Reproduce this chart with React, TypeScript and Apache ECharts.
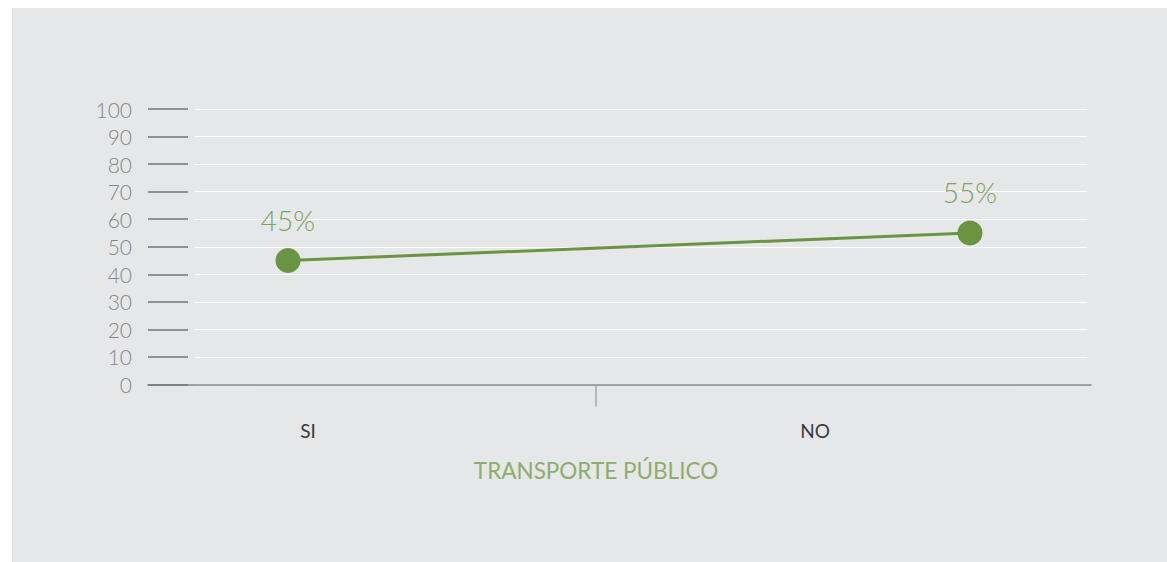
import React, { useEffect, useRef } from "react";
import * as echarts from "echarts";

const categories = ["SI", "NO"];
const values = [45, 55];
const yMin = 0;
const yMax = 100;
const yInterval = 10;
const axisTitle = "TRANSPORTE PÚBLICO";

const FONT = "Lato, 'Open Sans', sans-serif";

export default function App() {
  const ref = useRef<HTMLDivElement>(null);
  useEffect(() => {
    if (!ref.current) return;
    const chart = echarts.init(ref.current, undefined, { renderer: "svg" });
    const top = 109;
    const bottom = 562 - 384.5;
    const hiddenY = (gridIndex: number, splitLine = false) => ({
      type: "value",
      gridIndex,
      min: yMin,
      max: yMax,
      interval: yInterval,
      axisLine: { show: false },
      axisTick: { show: false },
      axisLabel: { show: false },
      splitLine: splitLine
        ? { show: true, lineStyle: { color: "#ffffff", width: 1.2 } }
        : { show: false },
    });
    chart.setOption({
      animation: false,
      backgroundColor: "transparent",
      grid: [
        { left: 148, right: 1167 - 1091, top, bottom }, // 0: y labels + ticks + axis line
        { left: 195, right: 1167 - 1087, top, bottom }, // 1: split lines
        { left: 288, right: 1167 - 970, top, bottom }, // 2: line series
        { left: 54.5, right: 1167 - 1068.5, top, bottom }, // 3: category labels
        { left: 148, right: 1167 - 1044, top, bottom }, // 4: middle tick + title
      ],
      xAxis: [
        {
          type: "category",
          gridIndex: 0,
          data: categories,
          axisLine: { show: true, lineStyle: { color: "#86878a", width: 1.5 } },
          axisTick: { show: false },
          axisLabel: { show: false },
          splitLine: { show: false },
        },
        {
          type: "category",
          gridIndex: 1,
          data: categories,
          show: false,
        },
        {
          type: "category",
          gridIndex: 2,
          data: categories,
          boundaryGap: false,
          show: false,
        },
        {
          type: "category",
          gridIndex: 3,
          data: categories,
          axisLine: { show: false },
          axisTick: { show: false },
          axisLabel: {
            show: true,
            margin: 36,
            color: "#3a3a3c",
            fontSize: 19,
            fontFamily: FONT,
            fontWeight: 400,
          },
        },
        {
          type: "category",
          gridIndex: 4,
          data: [axisTitle],
          axisLine: { show: false },
          axisTick: {
            show: true,
            alignWithLabel: true,
            length: 22,
            lineStyle: { color: "#a7a8ab", width: 1.5 },
          },
          axisLabel: { show: false },
          name: axisTitle,
          nameLocation: "middle",
          nameGap: 74,
          nameTextStyle: {
            color: "#8cae6c",
            fontSize: 22.5,
            fontFamily: FONT,
            fontWeight: 400,
          },
        },
      ],
      yAxis: [
        {
          type: "value",
          gridIndex: 0,
          min: yMin,
          max: yMax,
          interval: yInterval,
          axisLine: { show: false },
          axisTick: {
            show: true,
            inside: true,
            length: 40,
            lineStyle: { color: "#737478", width: 1.5 },
          },
          axisLabel: {
            show: true,
            margin: 16,
            color: "#86878a",
            fontSize: 21,
            fontFamily: FONT,
            fontWeight: 300,
          },
          splitLine: { show: false },
        },
        hiddenY(1, true),
        hiddenY(2),
        hiddenY(3),
        hiddenY(4),
      ],
      series: [
        {
          type: "line",
          xAxisIndex: 2,
          yAxisIndex: 2,
          data: values,
          symbol: "circle",
          symbolSize: 25,
          lineStyle: { color: "#6b9442", width: 3 },
          itemStyle: { color: "#6b9442" },
          label: {
            show: true,
            position: "top",
            distance: 14,
            formatter: "{c}%",
            color: "#7ea25a",
            fontSize: 28,
            fontFamily: FONT,
            fontWeight: 300,
          },
          z: 5,
        },
      ],
    });
    return () => chart.dispose();
  }, []);
  return (
    <div
      style={{
        position: "fixed",
        left: 0,
        top: 0,
        width: 1167,
        height: 562,
        background: "#ffffff",
      }}
    >
      <div
        style={{
          position: "absolute",
          left: 12,
          top: 8,
          width: 1155,
          height: 554,
          background: "#e6e7e8",
        }}
      />
      <div
        ref={ref}
        style={{ position: "absolute", left: 0, top: 0, width: 1167, height: 562 }}
      />
    </div>
  );
}
